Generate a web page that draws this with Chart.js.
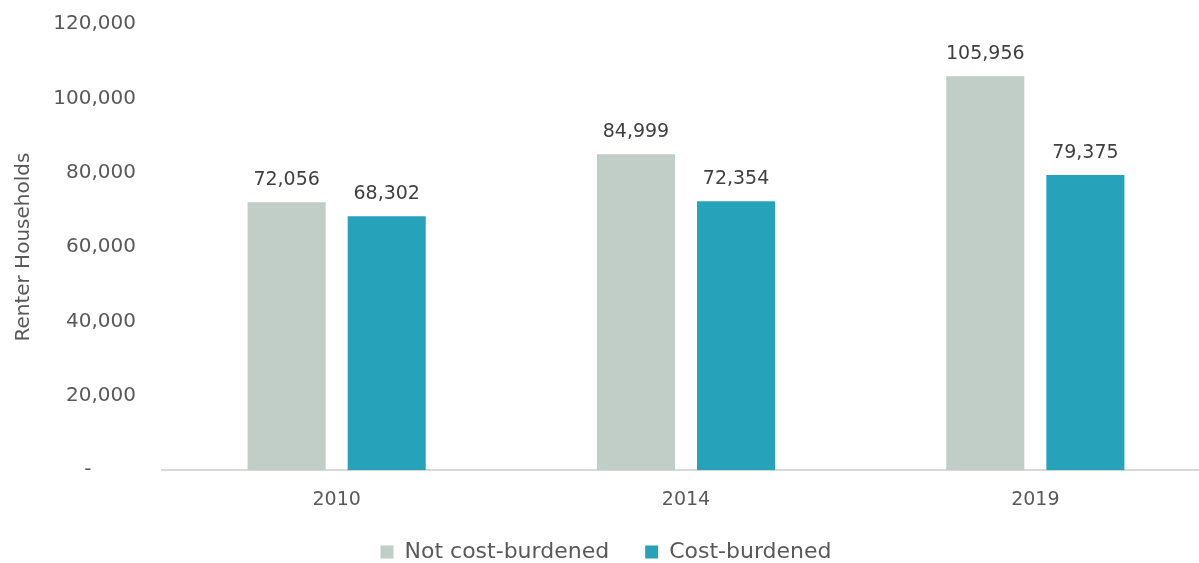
<!DOCTYPE html>
<html>
<head>
<meta charset="utf-8">
<script src="https://cdn.jsdelivr.net/npm/chart.js@4/dist/chart.umd.min.js"></script>
<style>
  html, body { margin: 0; padding: 0; background: #fff; overflow: hidden; }
  #wrap { width: 1210px; height: 563px; }
</style>
</head>
<body>
<div id="wrap"><canvas id="chart"></canvas></div>
<script>
const years = ['2010', '2014', '2019'];
const notBurdened = [72056, 84999, 105956];
const burdened = [68302, 72354, 79375];
const yTicks = [0, 20000, 40000, 60000, 80000, 100000, 120000];

const FONT = 'DejaVu Sans';
const TXT = '#595959';

function fmt(v) {
  return v.toLocaleString('en-US');
}

// draws the value above each bar
const barLabels = {
  id: 'barLabels',
  afterDatasetsDraw(chart) {
    const ctx = chart.ctx;
    ctx.save();
    ctx.font = '19px "' + FONT + '"';
    ctx.fillStyle = '#404040';
    ctx.textAlign = 'center';
    ctx.textBaseline = 'alphabetic';
    chart.data.datasets.forEach((ds, i) => {
      chart.getDatasetMeta(i).data.forEach((bar, j) => {
        ctx.fillText(fmt(ds.data[j]), bar.x, bar.y - 17);
      });
    });
    ctx.restore();
  }
};

new Chart(document.getElementById('chart').getContext('2d'), {
  type: 'bar',
  data: {
    labels: years,
    datasets: [{
      label: 'Not cost-burdened',
      data: notBurdened,
      backgroundColor: '#c0cec7',
      categoryPercentage: 0.573,
      barPercentage: 0.78
    }, {
      label: 'Cost-burdened',
      data: burdened,
      backgroundColor: '#26a2bb',
      categoryPercentage: 0.573,
      barPercentage: 0.78
    }]
  },
  options: {
    responsive: true,
    maintainAspectRatio: false,
    animation: false,
    layout: { padding: { top: 24, left: 2, right: 0, bottom: -10 } },
    plugins: {
      tooltip: { enabled: false },
      legend: {
        position: 'bottom',
        labels: {
          font: { family: FONT, size: 22 },
          color: TXT,
          boxWidth: 13,
          boxHeight: 13,
          padding: 36
        }
      }
    },
    scales: {
      x: {
        grid: { display: false, drawTicks: false },
        border: { display: true, color: '#d9d9d9', width: 2 },
        ticks: { font: { family: FONT, size: 19 }, color: TXT, padding: 18 },
        afterFit(scale) { scale.height -= 24; }
      },
      y: {
        min: 0,
        max: 120000,
        afterBuildTicks(axis) {
          axis.ticks = yTicks.map(v => ({ value: v }));
        },
        afterFit(scale) {
          scale.width = 160;
          scale.paddingTop = 0;
          scale.paddingBottom = 0;
        },
        grid: { display: false, drawTicks: false },
        border: { display: false },
        ticks: {
          font: { family: FONT, size: 20 },
          color: TXT,
          padding: 26,
          callback: v => v === 0 ? '-       ' : fmt(v)
        },
        title: {
          display: true,
          text: 'Renter Households',
          font: { family: FONT, size: 20 },
          color: TXT,
          padding: { top: 10, bottom: 0 }
        }
      }
    }
  },
  plugins: [barLabels]
});
</script>
</body>
</html>
